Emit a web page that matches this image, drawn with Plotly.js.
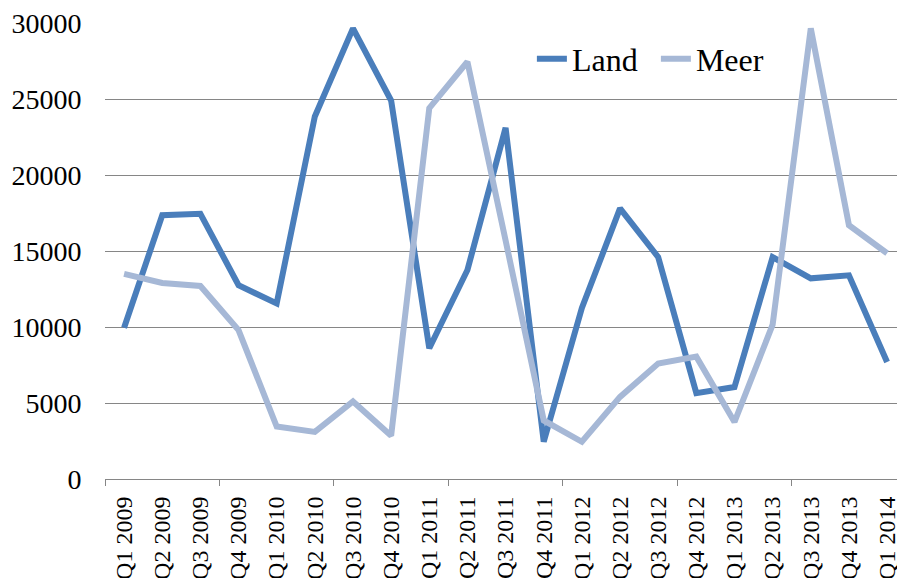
<!DOCTYPE html>
<html>
<head>
<meta charset="utf-8">
<script src="https://cdn.plot.ly/plotly-3.0.1.min.js"></script>
<style>html,body{margin:0;padding:0;background:#fff;}#chart{width:897px;height:578px;}</style>
</head>
<body>
<div id="chart"></div>
<script>
var quarters = ["Q1 2009","Q2 2009","Q3 2009","Q4 2009","Q1 2010","Q2 2010","Q3 2010","Q4 2010",
  "Q1 2011","Q2 2011","Q3 2011","Q4 2011","Q1 2012","Q2 2012","Q3 2012","Q4 2012",
  "Q1 2013","Q2 2013","Q3 2013","Q4 2013","Q1 2014"];
var land = [9950,17350,17450,12750,11550,23850,29650,24900,8600,13750,23100,2450,11250,17800,14600,5650,6050,14600,13200,13400,7700];
var meer = [13500,12900,12700,9800,3450,3100,5100,2850,24400,27450,15700,3850,2450,5400,7600,8050,3750,10150,29650,16700,14850];
var yTicks = [0,5000,10000,15000,20000,25000,30000];
var yTickText = ["0","5000","10000","15000","20000","25000","30000"];

var idx = quarters.map(function(_, i){ return i; });
var boundaryTicks = [];
for (var b = -0.5; b < quarters.length; b += 3) boundaryTicks.push(b);

var font = "Liberation Serif";
var xr = [-0.5, 20.26];

var traces = [
  {x: idx, y: land, name: "Land", type: "scatter", mode: "lines",
   line: {color: "#4a7ebb", width: 6}},
  {x: idx, y: meer, name: "Meer", type: "scatter", mode: "lines",
   line: {color: "#a6b8d6", width: 6}},
  {x: [null], y: [null], xaxis: "x2", showlegend: false, hoverinfo: "skip"}
];

var layout = {
  width: 897, height: 578,
  margin: {l: 105, r: 0, t: 23, b: 99},
  paper_bgcolor: "#fff", plot_bgcolor: "#fff",
  font: {family: font, color: "#000", size: 26},
  showlegend: true,
  legend: {orientation: "h", x: 0.539, xanchor: "left", y: 0.921, yanchor: "middle",
           font: {family: font, size: 32, color: "#000"}, bgcolor: "rgba(0,0,0,0)",
           entrywidth: 79, entrywidthmode: "pixels", tracegroupgap: 0},
  xaxis: {range: xr, tickmode: "array", tickvals: idx, ticktext: quarters,
          tickangle: -90, ticks: "outside", ticklen: 7, tickcolor: "rgba(0,0,0,0)",
          ticklabeloverflow: "allow",
          showgrid: false, zeroline: false, showline: true, linecolor: "#868686", linewidth: 1,
          tickfont: {family: font, size: 24, color: "#000"}},
  xaxis2: {range: xr, overlaying: "x", anchor: "y", side: "bottom", tickmode: "array",
           tickvals: boundaryTicks, ticks: "outside", ticklen: 6, tickcolor: "#868686", tickwidth: 1,
           showticklabels: false, showgrid: false, zeroline: false, showline: false},
  yaxis: {range: [0, 30000], tickmode: "array", tickvals: yTicks, ticktext: yTickText,
          ticks: "outside", ticklen: 17, tickcolor: "rgba(0,0,0,0)",
          showgrid: true, gridcolor: "#868686", gridwidth: 1, zeroline: false, showline: false,
          tickfont: {family: font, size: 28, color: "#000"}}
};

Plotly.newPlot("chart", traces, layout, {displayModeBar: false, staticPlot: true});
</script>
</body>
</html>
